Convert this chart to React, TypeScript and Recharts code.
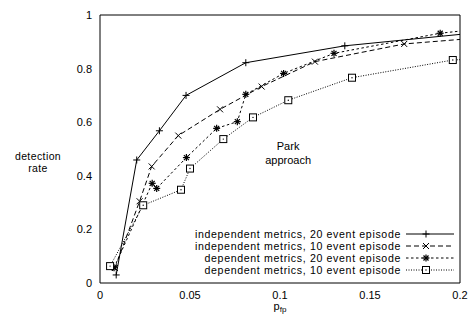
import React from "react";
import { LineChart, Line, XAxis, YAxis, Legend, ReferenceDot } from "recharts";

const X_MAX = 0.2;
const xTicks = [0, 0.05, 0.1, 0.15, 0.2];
const yTicks = [0, 0.2, 0.4, 0.6, 0.8, 1];

// independent metrics, 20 event episode (last point lies past the x range, clipped)
const indep20X = [0.009, 0.0204, 0.033, 0.0478, 0.081, 0.136, 0.25];
const indep20Y = [0.03, 0.459, 0.568, 0.7, 0.822, 0.885, 0.961];

// independent metrics, 10 event episode
const indep10X = [0.0083, 0.022, 0.0287, 0.0435, 0.0667, 0.0898, 0.1194, 0.169, 0.25];
const indep10Y = [0.056, 0.305, 0.435, 0.55, 0.648, 0.733, 0.826, 0.892, 0.936];

// dependent metrics, 20 event episode
const dep20X = [0.0078, 0.029, 0.0315, 0.048, 0.0648, 0.0763, 0.081, 0.102, 0.13, 0.189, 0.25];
const dep20Y = [0.057, 0.372, 0.353, 0.468, 0.577, 0.602, 0.704, 0.782, 0.857, 0.932, 0.976];

// dependent metrics, 10 event episode
const dep10X = [0.0056, 0.024, 0.045, 0.05, 0.0685, 0.085, 0.1046, 0.14, 0.196, 0.25];
const dep10Y = [0.063, 0.29, 0.348, 0.427, 0.537, 0.618, 0.682, 0.766, 0.832, 0.85];

const seriesNames = [
  "independent metrics, 20 event episode",
  "independent metrics, 10 event episode",
  "dependent metrics, 20 event episode",
  "dependent metrics, 10 event episode",
];

const PARK_X = 0.1045;
const PARK_Y = 0.485;

const FONT = '"Liberation Sans", Arial, Helvetica, sans-serif';

type Marker = "plus" | "cross" | "star" | "square";

const toPoints = (xs: number[], ys: number[]) => xs.map((x, i) => ({ x, y: ys[i] }));

const SERIES: { name: string; data: { x: number; y: number }[]; dash?: string; marker: Marker }[] = [
  { name: seriesNames[0], data: toPoints(indep20X, indep20Y), dash: undefined, marker: "plus" },
  { name: seriesNames[1], data: toPoints(indep10X, indep10Y), dash: "5 3", marker: "cross" },
  { name: seriesNames[2], data: toPoints(dep20X, dep20Y), dash: "2.5 2.5", marker: "star" },
  { name: seriesNames[3], data: toPoints(dep10X, dep10Y), dash: "1 1.5", marker: "square" },
];

const MarkerShape = ({ kind, cx, cy }: { kind: Marker; cx: number; cy: number }) => {
  const s = { stroke: "#000", strokeWidth: 1, fill: "none" };
  if (kind === "plus") {
    return (
      <g {...s}>
        <line x1={cx - 3.5} x2={cx + 3.5} y1={cy} y2={cy} />
        <line x1={cx} x2={cx} y1={cy - 3.5} y2={cy + 3.5} />
      </g>
    );
  }
  if (kind === "cross") {
    return (
      <g {...s}>
        <line x1={cx - 3} x2={cx + 3} y1={cy - 3} y2={cy + 3} />
        <line x1={cx - 3} x2={cx + 3} y1={cy + 3} y2={cy - 3} />
      </g>
    );
  }
  if (kind === "star") {
    return (
      <g {...s} strokeWidth={1.2}>
        <line x1={cx - 3.5} x2={cx + 3.5} y1={cy} y2={cy} />
        <line x1={cx} x2={cx} y1={cy - 3.5} y2={cy + 3.5} />
        <line x1={cx - 2.5} x2={cx + 2.5} y1={cy - 2.5} y2={cy + 2.5} />
        <line x1={cx - 2.5} x2={cx + 2.5} y1={cy + 2.5} y2={cy - 2.5} />
      </g>
    );
  }
  return (
    <g>
      <rect x={cx - 3.5} y={cy - 3.5} width={7} height={7} fill="#fff" stroke="#000" strokeWidth={1} />
      <circle cx={cx} cy={cy} r={0.7} fill="#000" />
    </g>
  );
};

const makeDot = (kind: Marker) => (props: any) => {
  const { cx, cy, payload, index } = props;
  if (cx == null || cy == null || payload.x > X_MAX) return <g key={index} />;
  return <MarkerShape key={index} kind={kind} cx={cx} cy={cy} />;
};

const YTitle = ({ viewBox }: any) => {
  const cy = viewBox.y + viewBox.height / 2;
  return (
    <text x={viewBox.x + 38} y={cy + 11} textAnchor="middle" fontSize={10.5} letterSpacing={0.4} fontFamily={FONT} fill="#000">
      <tspan x={viewBox.x + 38}>detection</tspan>
      <tspan x={viewBox.x + 38} dy={12}>rate</tspan>
    </text>
  );
};

const XTitle = ({ viewBox }: any) => (
  <text x={viewBox.x + viewBox.width / 2} y={viewBox.y + 27} textAnchor="middle" fontSize={11} fontFamily={FONT} fill="#000">
    p<tspan fontSize={8} dy={2}>fp</tspan>
  </text>
);

const ParkLabel = ({ viewBox }: any) => {
  const cx = viewBox.x + viewBox.width / 2;
  const cy = viewBox.y + viewBox.height / 2;
  return (
    <text x={cx} y={cy - 3} textAnchor="middle" fontSize={11} fontFamily={FONT} fill="#000">
      <tspan x={cx}>Park</tspan>
      <tspan x={cx} dy={14}>approach</tspan>
    </text>
  );
};

const LegendBox = () => (
  <div style={{ fontFamily: FONT, fontSize: 10.6, letterSpacing: 0.65, color: "#000" }}>
    {SERIES.map((s) => (
      <div
        key={s.name}
        style={{ display: "flex", justifyContent: "flex-end", alignItems: "center", height: 12 }}
      >
        <span style={{ lineHeight: "12px", whiteSpace: "nowrap" }}>{s.name}</span>
        <svg width={52} height={12} style={{ marginLeft: 4, display: "block" }}>
          <line x1={1} x2={49} y1={6} y2={6} stroke="#000" strokeWidth={1} strokeDasharray={s.dash} />
          <MarkerShape kind={s.marker} cx={21} cy={6} />
        </svg>
      </div>
    ))}
  </div>
);

const tickStyle = { fontSize: 11, fill: "#000", fontFamily: FONT };

export default function App() {
  return (
    <div style={{ position: "absolute", left: 0, top: 0, width: 473, height: 320, background: "#fff" }}>
      <LineChart width={473} height={320} margin={{ top: 15, right: 13, bottom: 0, left: 0 }}>
        <XAxis
          xAxisId="main"
          type="number"
          dataKey="x"
          domain={[0, X_MAX]}
          ticks={xTicks}
          allowDataOverflow
          axisLine={false}
          tickLine={false}
          tickSize={6}
          tickMargin={2}
          height={37}
          tick={tickStyle}
          label={{ content: XTitle }}
        />
        <XAxis xAxisId="bottomFrame" type="number" domain={[0, X_MAX]} ticks={xTicks} allowDataOverflow mirror tick={false} tickSize={5} stroke="#000" />
        <XAxis xAxisId="topFrame" orientation="top" type="number" domain={[0, X_MAX]} ticks={xTicks} allowDataOverflow mirror tick={false} tickSize={5} stroke="#000" />
        <YAxis
          yAxisId="main"
          type="number"
          dataKey="y"
          domain={[0, 1]}
          ticks={yTicks}
          allowDataOverflow
          axisLine={false}
          tickLine={false}
          tickSize={6}
          tickMargin={2}
          width={100}
          tick={tickStyle}
          label={{ content: YTitle }}
        />
        <YAxis yAxisId="leftFrame" type="number" domain={[0, 1]} ticks={yTicks} allowDataOverflow mirror tick={false} tickSize={5} stroke="#000" />
        <YAxis yAxisId="rightFrame" orientation="right" type="number" domain={[0, 1]} ticks={yTicks} allowDataOverflow mirror tick={false} tickSize={5} stroke="#000" />
        {SERIES.map((s) => (
          <Line
            key={s.name}
            name={s.name}
            data={s.data}
            dataKey="y"
            xAxisId="main"
            yAxisId="main"
            type="linear"
            stroke="#000"
            strokeWidth={1}
            strokeDasharray={s.dash}
            dot={makeDot(s.marker)}
            activeDot={false}
            isAnimationActive={false}
          />
        ))}
        <ReferenceDot
          xAxisId="main"
          yAxisId="main"
          x={PARK_X}
          y={PARK_Y}
          r={0}
          fill="none"
          stroke="none"
          label={{ content: ParkLabel }}
        />
        <Legend
          layout="vertical"
          align="center"
          verticalAlign="middle"
          content={LegendBox}
          wrapperStyle={{ left: 100, top: 228, width: 357 }}
        />
      </LineChart>
    </div>
  );
}
